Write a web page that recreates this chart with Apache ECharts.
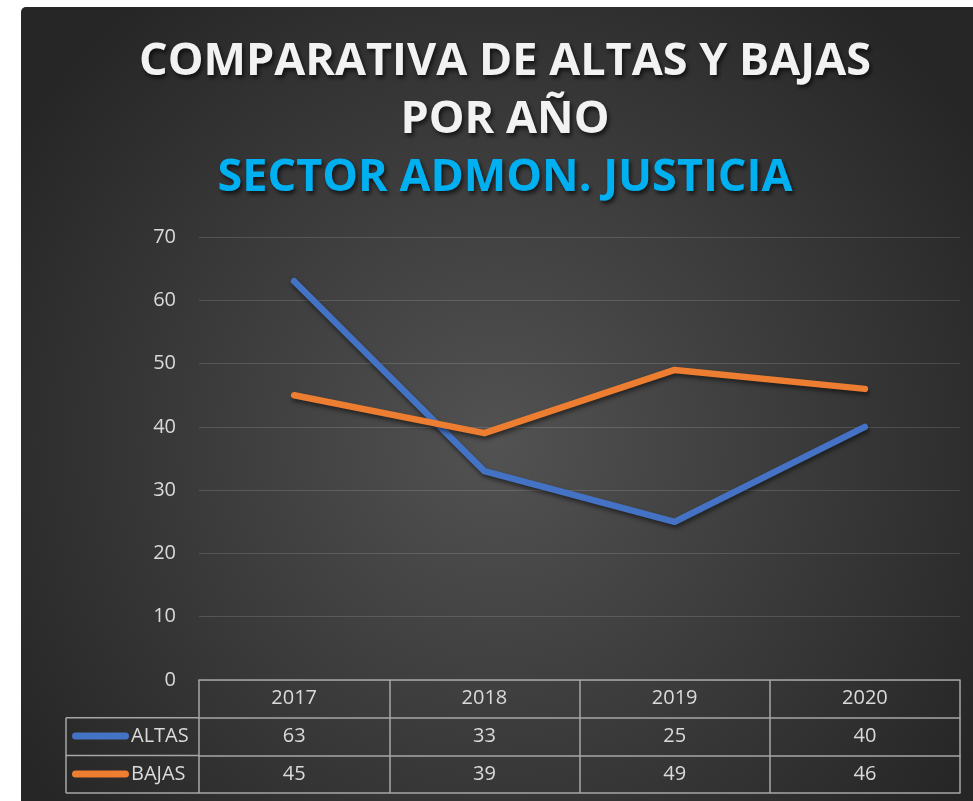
<!DOCTYPE html>
<html>
<head>
<meta charset="utf-8">
<script src="https://cdn.jsdelivr.net/npm/echarts@6/dist/echarts.min.js"></script>
<style>
  html, body { margin: 0; padding: 0; background: #fff; }
  #chart { width: 973px; height: 801px; }
</style>
</head>
<body>
<div id="chart"></div>
<script>
// datos del gráfico
const years = ['2017', '2018', '2019', '2020']
const altas = [63, 33, 25, 40]
const bajas = [45, 39, 49, 46]
const yTicks = [0, 10, 20, 30, 40, 50, 60, 70]

const gridLeft = 199
const gridRight = 13
const gridTop = 237
const gridBottom = 121
const rowH = 37.7
const tableLeft = 66
const borderColor = '#a6a6a6'
const textColor = '#dadada'
const font = '"Open Sans", sans-serif'

const chart = echarts.init(document.getElementById('chart'))

// eje de la tabla (fila de valores)
function rowAxis (data, offset, showLabel) {
  return {
    type: 'category',
    data: data,
    position: 'bottom',
    offset: offset,
    axisLine: { show: true, lineStyle: { color: borderColor, width: 1.5 } },
    axisTick: { show: false },
    axisLabel: { show: showLabel, interval: 0, margin: 9, fontSize: 20, color: textColor, fontFamily: font }
  }
}

const H = 801
const yTop = H - gridBottom

const titleStyle = {
  fontSize: 45,
  fontWeight: 'bold',
  fontFamily: font,
  color: '#f2f2f2',
  lineHeight: 58,
  align: 'center',
  textShadowColor: 'rgba(0,0,0,0.65)',
  textShadowBlur: 4,
  textShadowOffsetX: 2,
  textShadowOffsetY: 3
}

chart.setOption({
  graphic: [
    {
      type: 'rect',
      z: -10,
      silent: true,
      shape: { x: 21, y: 7, width: 952, height: 794, r: [5, 0, 0, 0] },
      style: {
        fill: new echarts.graphic.RadialGradient(0.5, 0.55, 0.72, [
          { offset: 0, color: '#525252' },
          { offset: 1, color: '#262626' }
        ])
      }
    },
    // parte izquierda de la tabla (columna de leyenda)
    {
      type: 'group',
      silent: true,
      children: [1, 2, 3].map(i => ({
        type: 'line',
        shape: { x1: tableLeft, y1: yTop + rowH * i, x2: gridLeft, y2: yTop + rowH * i },
        style: { stroke: borderColor, lineWidth: 1.5 }
      })).concat([{
        type: 'line',
        shape: { x1: tableLeft, y1: yTop + rowH, x2: tableLeft, y2: yTop + rowH * 3 },
        style: { stroke: borderColor, lineWidth: 1.5 }
      }])
    }
  ],
  title: {
    left: 505,
    top: 33,
    padding: 0,
    textAlign: 'center',
    text: '{a|COMPARATIVA DE ALTAS Y BAJAS}\n{a|POR AÑO}\n{b|SECTOR ADMON. JUSTICIA}',
    textStyle: {
      rich: {
        a: titleStyle,
        b: Object.assign({}, titleStyle, { color: '#00b0f0' })
      }
    }
  },
  legend: {
    orient: 'vertical',
    left: 72,
    top: 725,
    padding: 0,
    itemWidth: 57,
    itemHeight: 7,
    itemGap: 16,
    selectedMode: false,
    icon: 'path://M3.5,0 L53.5,0 A3.5,3.5 0 0 1 53.5,7 L3.5,7 A3.5,3.5 0 0 1 3.5,0 Z',
    textStyle: { fontSize: 20, lineHeight: 22, color: textColor, fontFamily: font, padding: [0, 0, 0, -3] },
    data: ['ALTAS', 'BAJAS']
  },
  grid: {
    left: gridLeft,
    right: gridRight,
    top: gridTop,
    bottom: gridBottom
  },
  xAxis: [
    {
      type: 'category',
      data: years,
      position: 'bottom',
      axisLine: { show: true, lineStyle: { color: borderColor, width: 1.5 } },
      axisTick: { show: true, interval: 0, length: rowH * 3, lineStyle: { color: borderColor, width: 1.5 } },
      axisLabel: { interval: 0, margin: 8, fontSize: 20, color: textColor, fontFamily: font }
    },
    rowAxis(altas.map(String), rowH, true),
    rowAxis(bajas.map(String), rowH * 2, true),
    rowAxis(years, rowH * 3, false)
  ],
  yAxis: {
    type: 'value',
    min: yTicks[0],
    max: yTicks[yTicks.length - 1],
    interval: 10,
    axisLine: { show: false },
    axisTick: { show: false },
    axisLabel: { margin: 23, fontSize: 20, color: textColor, fontFamily: font },
    splitLine: { lineStyle: { color: 'rgba(255,255,255,0.14)', width: 1 } }
  },
  series: [
    {
      name: 'ALTAS',
      type: 'line',
      data: altas,
      symbol: 'none',
      color: '#4472c4',
      lineStyle: {
        width: 6.5,
        cap: 'round',
        join: 'round',
        shadowColor: 'rgba(0,0,0,0.5)',
        shadowBlur: 4,
        shadowOffsetX: 1,
        shadowOffsetY: 3
      },
      animation: false
    },
    {
      name: 'BAJAS',
      type: 'line',
      data: bajas,
      symbol: 'none',
      color: '#ed7d31',
      lineStyle: {
        width: 6.5,
        cap: 'round',
        join: 'round',
        shadowColor: 'rgba(0,0,0,0.5)',
        shadowBlur: 4,
        shadowOffsetX: 1,
        shadowOffsetY: 3
      },
      animation: false
    }
  ]
})
</script>
</body>
</html>
